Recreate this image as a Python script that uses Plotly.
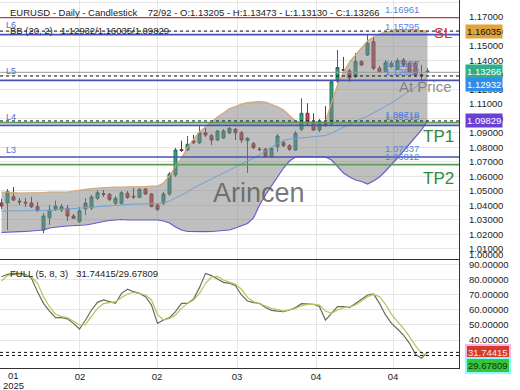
import plotly.graph_objects as go

# ---------------- data ----------------
idx = list(range(72))

opens = [1.04162, 1.04162, 1.04597, 1.04286, 1.04210, 1.04162, 1.03907, 1.02297, 1.03147, 1.03727,
         1.03678, 1.03795, 1.03264, 1.02871, 1.03747, 1.03817, 1.04486, 1.04804, 1.04763, 1.04141,
         1.04141, 1.04832, 1.04624, 1.04555, 1.05129, 1.04784, 1.04024, 1.04141, 1.04784, 1.06096,
         1.07856, 1.07822, 1.08464, 1.08326, 1.09017, 1.08810, 1.08513, 1.08651, 1.08996, 1.09251,
         1.09017, 1.08464, 1.08258, 1.07891, 1.07870, 1.07359, 1.08043, 1.08326, 1.08119, 1.07822,
         1.09251, 1.10356, 1.09782, 1.09203, 1.09666, 1.09617, 1.12587, 1.13381, 1.13278, 1.12884,
         1.13920, 1.14383, 1.15301, 1.13464, 1.13229, 1.13575, 1.13395, 1.14037, 1.13830, 1.13810,
         1.13036, 1.13205]
highs = [1.04438, 1.05129, 1.05267, 1.04507, 1.04507, 1.04597, 1.04231, 1.03471, 1.04024, 1.04321,
         1.04093, 1.04024, 1.03402, 1.03886, 1.04507, 1.04714, 1.05060, 1.05060, 1.04852, 1.04645,
         1.04991, 1.04991, 1.05198, 1.05198, 1.05198, 1.04852, 1.04093, 1.04922, 1.06303, 1.07960,
         1.08464, 1.08789, 1.08858, 1.09548, 1.09341, 1.08927, 1.09203, 1.09272, 1.09410, 1.09341,
         1.09134, 1.08720, 1.08375, 1.08030, 1.07960, 1.08030, 1.08927, 1.08444, 1.08237, 1.09134,
         1.11392, 1.11047, 1.10356, 1.09962, 1.10861, 1.12656, 1.14728, 1.14245, 1.13416, 1.14521,
         1.14037, 1.15764, 1.15646, 1.13623, 1.14037, 1.13968, 1.14176, 1.14176, 1.13968, 1.13899,
         1.13692, 1.13473]
lows = [1.03747, 1.02297, 1.04300, 1.04024, 1.03886, 1.03817, 1.03540, 1.02069, 1.02643, 1.03609,
        1.03540, 1.02919, 1.03057, 1.02781, 1.03333, 1.03678, 1.04369, 1.04576, 1.04300, 1.04024,
        1.04093, 1.04438, 1.04438, 1.04507, 1.04714, 1.03886, 1.03609, 1.04024, 1.04645, 1.05958,
        1.07684, 1.07753, 1.08237, 1.08237, 1.08720, 1.08168, 1.08444, 1.08582, 1.08927, 1.08513,
        1.08306, 1.06234, 1.07891, 1.07753, 1.07270, 1.07270, 1.07705, 1.08030, 1.07753, 1.07753,
        1.09134, 1.09548, 1.09134, 1.09065, 1.09410, 1.09548, 1.12449, 1.13209, 1.12518, 1.12794,
        1.13623, 1.14314, 1.13347, 1.13140, 1.13140, 1.13485, 1.13347, 1.13554, 1.13140, 1.12864,
        1.12656, 1.13130]
closes = [1.03955, 1.04943, 1.04369, 1.04231, 1.04162, 1.03907, 1.03630, 1.03264, 1.03678, 1.03955,
          1.03907, 1.03264, 1.03105, 1.03630, 1.04162, 1.04576, 1.04873, 1.04763, 1.04418, 1.04486,
          1.04873, 1.04555, 1.04576, 1.05108, 1.04784, 1.03907, 1.03727, 1.04784, 1.06165, 1.07822,
          1.07787, 1.08216, 1.08326, 1.09017, 1.08858, 1.08513, 1.09134, 1.09134, 1.09321, 1.09017,
          1.08513, 1.08630, 1.07981, 1.07850, 1.07359, 1.07939, 1.08789, 1.08119, 1.07870, 1.08975,
          1.10356, 1.09666, 1.09203, 1.09782, 1.09548, 1.12539, 1.13519, 1.13312, 1.12794, 1.13920,
          1.13692, 1.15191, 1.13464, 1.13229, 1.13851, 1.13810, 1.13989, 1.13692, 1.13229, 1.13002,
          1.12967, 1.13266]

bb_upper = [1.04922, 1.04922, 1.04887, 1.04852, 1.04852, 1.04852, 1.04852, 1.04887, 1.04922, 1.04922,
            1.04922, 1.04922, 1.04991, 1.05060, 1.05129, 1.05163, 1.05198, 1.05232, 1.05267, 1.05267,
            1.05267, 1.05267, 1.05267, 1.05288, 1.05301, 1.05336, 1.05336, 1.05543, 1.06026, 1.06717,
            1.07270, 1.08029, 1.08582, 1.09065, 1.09410, 1.09756, 1.10101, 1.10377, 1.10688, 1.10826,
            1.10999, 1.11102, 1.11158, 1.11171, 1.11137, 1.10999, 1.10812, 1.10584, 1.10170, 1.09825,
            1.09756, 1.09756, 1.09756, 1.09756, 1.09790, 1.11068, 1.12311, 1.13209, 1.13899, 1.14383,
            1.14866, 1.15350, 1.15626, 1.15833, 1.15971, 1.16040, 1.16109, 1.16144, 1.16144, 1.16109,
            1.16075, 1.16035]
bb_mid = [1.03609, 1.03609, 1.03609, 1.03609, 1.03609, 1.03609, 1.03609, 1.03609, 1.03644, 1.03678,
          1.03713, 1.03747, 1.03782, 1.03817, 1.03851, 1.03886, 1.03920, 1.03955, 1.03989, 1.04024,
          1.04058, 1.04058, 1.04093, 1.04093, 1.04093, 1.04093, 1.04127, 1.04162, 1.04300, 1.04507,
          1.04714, 1.04922, 1.05198, 1.05405, 1.05612, 1.05819, 1.06026, 1.06234, 1.06441, 1.06648,
          1.06855, 1.07028, 1.07235, 1.07477, 1.07753, 1.08029, 1.08271, 1.08478, 1.08582, 1.08616,
          1.08651, 1.08685, 1.08720, 1.08754, 1.08823, 1.08996, 1.09203, 1.09410, 1.09618, 1.09825,
          1.09997, 1.10170, 1.10377, 1.10584, 1.10826, 1.11068, 1.11344, 1.11620, 1.11897, 1.12173,
          1.12518, 1.12932]
bb_lower = [1.02125, 1.02159, 1.02159, 1.02180, 1.02194, 1.02228, 1.02263, 1.02297, 1.02435, 1.02504,
            1.02539, 1.02573, 1.02594, 1.02622, 1.02643, 1.02712, 1.02815, 1.02884, 1.02953, 1.02988,
            1.03022, 1.02988, 1.02988, 1.02988, 1.02988, 1.02988, 1.02988, 1.02919, 1.02781, 1.02504,
            1.02297, 1.02194, 1.02180, 1.02180, 1.02180, 1.02194, 1.02228, 1.02263, 1.02297, 1.02435,
            1.02573, 1.02746, 1.03126, 1.04024, 1.04714, 1.05336, 1.05957, 1.06579, 1.07062, 1.07339,
            1.07373, 1.07373, 1.07373, 1.07373, 1.07339, 1.07131, 1.06648, 1.06234, 1.05957, 1.05750,
            1.05647, 1.05474, 1.05681, 1.05957, 1.06372, 1.06786, 1.07270, 1.07753, 1.08236, 1.08789,
            1.09203, 1.09829]

stoch_k = [82.2, 83.8, 84.4, 84.4, 83.8, 81.1, 72.2, 64.4, 59.3, 54.9,
           54.9, 54.0, 51.1, 47.3, 53.3, 60.0, 65.1, 66.7, 65.6, 64.4,
           71.1, 73.8, 72.2, 71.1, 68.9, 63.3, 51.1, 53.3, 54.9, 58.9,
           64.4, 64.4, 67.3, 74.9, 84.4, 82.9, 80.7, 78.4, 77.8, 76.2,
           70.0, 66.0, 64.9, 64.4, 61.6, 59.8, 59.3, 58.9, 60.0, 61.6,
           64.2, 64.2, 63.8, 62.2, 53.3, 57.8, 62.2, 62.2, 61.6, 64.4,
           67.3, 70.0, 70.7, 64.4, 56.7, 51.1, 47.3, 43.3, 37.8, 30.4,
           27.8, 31.74415]
stoch_d = [79.3, 82.9, 83.8, 83.8, 83.3, 82.0, 77.8, 68.9, 62.2, 57.1,
           55.6, 54.9, 52.7, 50.0, 50.4, 55.6, 61.1, 64.2, 65.1, 65.6,
           68.2, 70.7, 71.8, 71.1, 70.0, 66.7, 57.1, 53.3, 54.4, 56.7,
           61.1, 64.4, 66.7, 71.1, 77.8, 82.0, 82.4, 80.0, 78.4, 77.1,
           73.8, 68.4, 65.6, 64.4, 62.7, 61.1, 60.0, 59.3, 60.0, 61.1,
           62.9, 63.8, 63.8, 63.3, 59.3, 57.8, 60.0, 61.6, 62.0, 63.3,
           66.0, 68.9, 70.4, 68.9, 63.8, 57.1, 52.2, 47.8, 42.2, 36.2,
           31.1, 29.67809]

x_tick_pos = [13.08, 25.92, 39.25, 52.42, 65.25]
x_tick_text = ["02", "02", "03", "04", "04"]

bb_now = [1.12932, 1.16035, 1.09829]          # mid / upper / lower
stoch_now = [31.74415, 29.67809]
ohlc_now = [1.13205, 1.13473, 1.13130, 1.13266]

blue_levels = [("L6", 1.15795), ("L5", 1.12627), ("L4", 1.09518), ("L3", 1.07337)]
green_levels = [("TP1", 1.09718), ("TP2", 1.06812)]
sl_level = 1.16961
at_price_level = 1.13187

# ---------------- geometry helpers (layout only) ----------------
W, H = 520, 390
ML, MR, MT, MB = 0, 61, 0, 22
PW, PH = W - ML - MR, H - MT - MB
SPLIT = (PH - 260) / PH


def px(x):
    return x / PW


def py(y):
    return (PH - y) / PH


FONT = "Liberation Sans, Arial, sans-serif"
TXT = "#222222"

fig = go.Figure()

fig.add_trace(go.Candlestick(
    x=idx, open=opens, high=highs, low=lows, close=closes,
    increasing=dict(line=dict(color="#2b6f60", width=1), fillcolor="#25a882"),
    decreasing=dict(line=dict(color="#7a3036", width=1), fillcolor="#d9434f"),
    whiskerwidth=0, xaxis="x", yaxis="y", showlegend=False, hoverinfo="skip"))

fig.add_trace(go.Scatter(x=idx, y=bb_lower, mode="lines", line=dict(color="#6a5acd", width=1.2),
                         xaxis="x", yaxis="y", showlegend=False, hoverinfo="skip"))
fig.add_trace(go.Scatter(x=idx, y=bb_upper, mode="lines", line=dict(color="#d6a56e", width=1.2),
                         fill="tonexty", fillcolor="rgba(128,128,128,0.5)",
                         xaxis="x", yaxis="y", showlegend=False, hoverinfo="skip"))
fig.add_trace(go.Scatter(x=idx, y=bb_mid, mode="lines", line=dict(color="#6fa3d6", width=1),
                         xaxis="x", yaxis="y", showlegend=False, hoverinfo="skip"))

fig.add_trace(go.Scatter(x=idx, y=stoch_k, mode="lines", line=dict(color="#6e6a58", width=1.2),
                         xaxis="x2", yaxis="y2", showlegend=False, hoverinfo="skip"))
fig.add_trace(go.Scatter(x=idx, y=stoch_d, mode="lines", line=dict(color="#b2c65a", width=1.2),
                         xaxis="x2", yaxis="y2", showlegend=False, hoverinfo="skip"))

shapes = []


def hline(y, color, width, dash="solid", yref="y"):
    shapes.append(dict(type="line", xref="x domain", x0=0, x1=1, yref=yref, y0=y, y1=y,
                       line=dict(color=color, width=width, dash=dash), layer="above"))


hline(sl_level, "#d83030", 1.2)
hline(at_price_level, "#9a9a9a", 1)
for _, v in blue_levels:
    hline(v, "#4752b0", 1.7)
for _, v in green_levels:
    hline(v, "#5a9e5a", 1.7)
for v in bb_now:
    hline(v, "#111111", 1, "dot")
for v in stoch_now:
    shapes.append(dict(type="line", xref="x2 domain", x0=0, x1=1, yref="y2", y0=v, y1=v,
                       line=dict(color="#111111", width=1, dash="dot"), layer="above"))

ann = []


def text(t, x, y, size=9.5, color=TXT, xanchor="left", **kw):
    ann.append(dict(text=t, x=x, y=y, xref="paper", yref="paper", xanchor=xanchor,
                    yanchor="middle", showarrow=False, font=dict(size=size, color=color, family=FONT), **kw))


sp = "\u00a0"
o, h_, l_, c_ = ohlc_now
text(f"EURUSD - Daily - Candlestick{sp*4}72/92 - O:{o:.5f} - H:{h_:.5f} - L:{l_:.5f} - C:{c_:.5f}",
     px(8), py(12))
text(f"BB (20, 2){sp*3}{bb_now[0]:.5f}/{bb_now[1]:.5f}/{bb_now[2]:.5f}", px(8), py(30))
text(f"FULL (5, 8, 3){sp*3}{stoch_now[0]:.5f}/{stoch_now[1]:.5f}", px(8), py(273))

# level names on the left
for (name, v), ypx in zip(blue_levels, [25, 71, 117, 150]):
    text(name, px(11), py(ypx), size=9, color="#4f6fd0", xanchor="center")

# level values near the right
for v in [sl_level, blue_levels[0][1], at_price_level, blue_levels[1][1], green_levels[0][1],
          blue_levels[2][1], blue_levels[3][1], green_levels[1][1]]:
    ann.append(dict(text=f"{v:.5f}", x=px(402), y=v, xref="paper", yref="y", xanchor="center",
                    yanchor="bottom", yshift=1, showarrow=False,
                    font=dict(size=9.5, color="#5b7fdc", family=FONT)))

text("SL", px(443), py(32), size=15, color="#dd2b2b", xanchor="center")
text("TP1", px(438.5), py(136), size=17, color="#2e8b3a", xanchor="center")
text("TP2", px(438.5), py(178), size=17, color="#2e8b3a", xanchor="center")
text("At Price", px(425), py(86), size=15, color="rgba(120,120,120,0.85)", xanchor="center")
text("Arincen", px(259), py(193), size=27, color="rgba(95,95,95,0.85)", xanchor="center")

# x labels for the first month
text("01", px(13), py(375), size=9.5, xanchor="center")
text("2025", px(13), py(385), size=9.5, xanchor="center")

# clamped bottom label of the price axis
text("1.00000", 1, py(254), size=9.5, xshift=8)

# price / indicator boxes on the right axis
def box(t, y, yref, bg, fc, border=None, yshift=0):
    d = dict(text=t, x=1, y=y, xref="paper", yref=yref, xanchor="left", yanchor="middle",
             xshift=6, yshift=yshift, showarrow=False, bgcolor=bg, borderpad=1,
             font=dict(size=9.5, color=fc, family=FONT))
    if border:
        d.update(bordercolor=border, borderwidth=2)
    ann.append(d)


box(f"{bb_now[1]:.5f}", bb_now[1], "y", "#e3a23b", "#111111")
box(f"{ohlc_now[3]:.5f}", ohlc_now[3], "y", "#2eaf8a", "#ffffff")
box(f"{bb_now[0]:.5f}", py(85), "paper", "#2f8fe8", "#ffffff")
box(f"{bb_now[2]:.5f}", bb_now[2], "y", "#6a3fd6", "#ffffff")
box(f"{stoch_now[0]:.5f}", stoch_now[0], "y2", "#d63a2a", "#ffe6e6", border="#ffb4ea")
box(f"{stoch_now[1]:.5f}", py(365), "paper", "#3ac43a", "#123312", border="#80ffff")

GRID = "#e6e6e6"
fig.update_layout(
    width=W, height=H, margin=dict(l=ML, r=MR, t=MT, b=MB), autosize=False,
    paper_bgcolor="white", plot_bgcolor="white", showlegend=False,
    font=dict(family=FONT, size=9.5, color=TXT),
    xaxis=dict(domain=[0, 1], anchor="y", range=[-0.25, 76.25], tickvals=x_tick_pos,
               showticklabels=False, showgrid=True, gridcolor=GRID, zeroline=False,
               rangeslider=dict(visible=False), showline=False, fixedrange=True),
    xaxis2=dict(domain=[0, 1], anchor="y2", range=[-0.25, 76.25], matches="x",
                tickvals=x_tick_pos, ticktext=x_tick_text, showgrid=True, gridcolor=GRID,
                zeroline=False, showline=True, mirror=True, linecolor="#333333", linewidth=1,
                ticks="", tickfont=dict(size=9.5, color=TXT)),
    yaxis=dict(domain=[SPLIT, 1], anchor="x", side="right", range=[1.00225, 1.18181],
               tick0=1.0, dtick=0.01, tickformat=".5f", showgrid=True, gridcolor=GRID,
               zeroline=False, showline=True, linecolor="#333333", linewidth=1, ticks="",
               ticklabelstandoff=7, tickfont=dict(size=9.5, color=TXT)),
    yaxis2=dict(domain=[0, SPLIT], anchor="x2", side="right", range=[21.33, 93.33],
                tickvals=[40, 50, 60, 70, 80, 90], tickformat=".5f", showgrid=True, gridcolor=GRID,
                zeroline=False, showline=True, linecolor="#333333", linewidth=1, ticks="",
                ticklabelstandoff=7, tickfont=dict(size=9.5, color=TXT)),
    shapes=shapes, annotations=ann,
)

fig.write_html("out.html", config={"displayModeBar": False},
               post_script="document.body.style.margin='0';document.body.style.overflow='hidden';")
